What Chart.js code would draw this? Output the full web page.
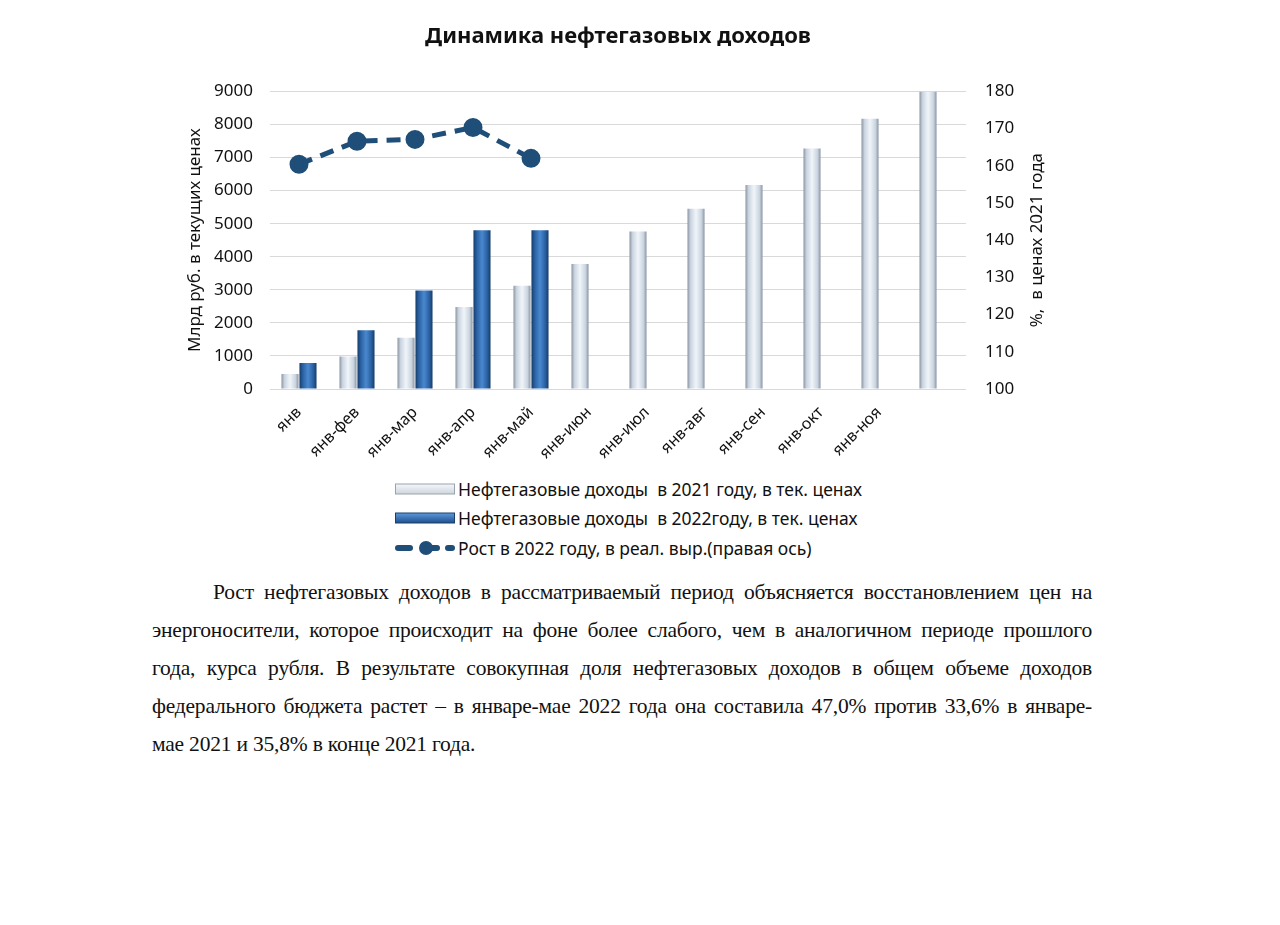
<!DOCTYPE html>
<html>
<head>
<meta charset="utf-8">
<script src="https://cdn.jsdelivr.net/npm/chart.js@4"></script>
<style>
html,body{margin:0;padding:0;background:#fff;}
#wrap{position:relative;width:1280px;height:925px;overflow:hidden;background:#fff;}
#c{position:absolute;left:0;top:0;}
#legend{position:absolute;left:395px;top:474px;font-family:"Noto Sans",sans-serif;font-size:17.5px;color:#111;}
.li{display:flex;align-items:center;height:29.5px;white-space:pre;}
.mk{width:60px;height:16px;margin-right:3px;flex:none;}
#text{position:absolute;left:152px;top:573px;width:940px;font-family:"Liberation Serif",serif;font-size:21.5px;letter-spacing:-0.2px;line-height:38px;color:#111;}
.ln{text-align:justify;text-align-last:justify;}
.ln.first{text-indent:61px;}
.ln.last{text-align-last:left;}
</style>
</head>
<body>
<div id="wrap">
<canvas id="c" width="1280" height="470"></canvas>
<div id="legend"></div>
<div id="text">
<div class="ln first">Рост нефтегазовых доходов в рассматриваемый период объясняется восстановлением цен на</div>
<div class="ln">энергоносители, которое происходит на фоне более слабого, чем в аналогичном периоде прошлого</div>
<div class="ln">года, курса рубля. В результате совокупная доля нефтегазовых доходов в общем объеме доходов</div>
<div class="ln">федерального бюджета растет – в январе-мае 2022 года она составила 47,0% против 33,6% в январе-</div>
<div class="ln last">мае 2021 и 35,8% в конце 2021 года.</div>
</div>
</div>
<script>
// ---- data ----
const chartTitle = 'Динамика нефтегазовых доходов';
const categories = ['янв','янв-фев','янв-мар','янв-апр','янв-май','янв-июн','янв-июл','янв-авг','янв-сен','янв-окт','янв-ноя',''];
const revenue2021 = [450, 980, 1550, 2480, 3120, 3780, 4760, 5450, 6170, 7270, 8170, 9000];
const revenue2022 = [790, 1780, 2980, 4800, 4800, null, null, null, null, null, null, null];
const growth2022 = [160.4, 166.6, 167.1, 170.3, 162.0, null, null, null, null, null, null, null];
const seriesNames = ['Нефтегазовые доходы  в 2021 году, в тек. ценах','Нефтегазовые доходы  в 2022году, в тек. ценах','Рост в 2022 году, в реал. выр.(правая ось)'];
const leftAxisTitle = 'Млрд руб. в текущих ценах';
const rightAxisTitle = '%,  в ценах 2021 года';
const leftMin = 0, leftMax = 9000, leftStep = 1000;
const rightMin = 100, rightMax = 180, rightStep = 10;

// ---- styling ----
const FONT = '"Noto Sans", sans-serif';
const CAT_PCT = 0.62, BAR_PCT = 0.95;
const lightStops = [[0,'#8b96a2'],[0.18,'#c9d4e0'],[0.5,'#f1f5fa'],[0.82,'#c9d4e0'],[1,'#8b96a2']];
const darkStops = [[0,'#163c69'],[0.2,'#2a62a4'],[0.5,'#4a88cf'],[0.8,'#2a62a4'],[1,'#163c69']];
const lineColor = '#1f4e79';

function barGradient(stops, slot){
  return (ctx) => {
    const chart = ctx.chart;
    const xs = chart.scales && chart.scales.x;
    if (ctx.type !== 'data' || !xs || !isFinite(xs.width) || xs.width <= 0) return stops[2][1];
    const cw = xs.width / categories.length;
    const slotW = cw * CAT_PCT / 2;
    const cx = xs.getPixelForValue(ctx.dataIndex) + (slot - 0.5) * slotW;
    const w = slotW * BAR_PCT;
    const g = chart.ctx.createLinearGradient(cx - w/2, 0, cx + w/2, 0);
    stops.forEach(([o,c]) => g.addColorStop(o,c));
    return g;
  };
}

const rightTitlePlugin = {
  id: 'rightTitle',
  afterDraw(chart){
    const s = chart.scales.y1;
    const c = chart.ctx;
    c.save();
    c.translate(s.left + 71, (s.top + s.bottom) / 2);
    c.rotate(-Math.PI/2);
    c.textAlign = 'center';
    c.textBaseline = 'middle';
    c.fillStyle = '#111';
    c.font = '17px ' + FONT;
    c.fillText(rightAxisTitle, 0, 0);
    c.restore();
  }
};

new Chart(document.getElementById('c'), {
  data: {
    labels: categories,
    datasets: [
      {type:'line', label: seriesNames[2], data: growth2022, yAxisID:'y1', order:0,
       borderColor: lineColor, backgroundColor: lineColor, borderWidth: 5, borderDash:[14,9],
       pointRadius: 7, pointBackgroundColor: lineColor, pointBorderColor: lineColor, tension:0, spanGaps:false},
      {type:'bar', label: seriesNames[0], data: revenue2021, yAxisID:'y', order:1,
       backgroundColor: barGradient(lightStops, 0), borderWidth:0,
       categoryPercentage: CAT_PCT, barPercentage: BAR_PCT},
      {type:'bar', label: seriesNames[1], data: revenue2022, yAxisID:'y', order:2,
       backgroundColor: barGradient(darkStops, 1), borderWidth:0,
       categoryPercentage: CAT_PCT, barPercentage: BAR_PCT}
    ]
  },
  options: {
    responsive:false, animation:false,
    layout:{padding:0},
    plugins:{
      legend:{display:false}, tooltip:{enabled:false},
      title:{display:true, fullSize:false, text: chartTitle, color:'#111', font:{family:FONT, size:22, weight:'bold'}, padding:{top:24,bottom:41}}
    },
    scales:{
      x:{
        grid:{display:false}, border:{display:false},
        ticks:{autoSkip:false, minRotation:45, maxRotation:45, color:'#111', font:{family:FONT, size:16}, padding:6},
        afterFit(s){ s.height = 81; }
      },
      y:{
        position:'left', min:leftMin, max:leftMax,
        grid:{color:'#d9d9d9', lineWidth:1, drawTicks:false}, border:{display:false},
        ticks:{stepSize:leftStep, color:'#111', font:{family:FONT, size:17}, padding:17, callback:(v)=>String(v)},
        title:{display:true, text:leftAxisTitle, color:'#111', font:{family:FONT, size:17}, padding:{top:185,bottom:0}},
        afterFit(s){ s.width = 270; }
      },
      y1:{
        position:'right', min:rightMin, max:rightMax,
        grid:{drawOnChartArea:false, drawTicks:false}, border:{display:false},
        ticks:{stepSize:rightStep, color:'#111', font:{family:FONT, size:17}, padding:19, callback:(v)=>String(v)},
        afterFit(s){ s.width = 314; }
      }
    }
  },
  plugins:[rightTitlePlugin]
});

// HTML legend built from series names
const lg = document.getElementById('legend');
const markers = [
  '<svg class="mk" viewBox="0 0 60 16"><defs><linearGradient id="g1" x1="0" y1="0" x2="0" y2="1"><stop offset="0" stop-color="#f5f7fa"/><stop offset="1" stop-color="#cdd5de"/></linearGradient></defs><rect x="0.5" y="3" width="59" height="10" fill="url(#g1)" stroke="#9aa3ad"/></svg>',
  '<svg class="mk" viewBox="0 0 60 16"><defs><linearGradient id="g2" x1="0" y1="0" x2="0" y2="1"><stop offset="0" stop-color="#5d9ade"/><stop offset="1" stop-color="#1f4f8a"/></linearGradient></defs><rect x="0.5" y="3" width="59" height="10" fill="url(#g2)" stroke="#1b406e"/></svg>',
  '<svg class="mk" viewBox="0 0 60 16"><line x1="3" y1="8" x2="15" y2="8" stroke="'+lineColor+'" stroke-width="6" stroke-linecap="round"/><line x1="30" y1="8" x2="42" y2="8" stroke="'+lineColor+'" stroke-width="6" stroke-linecap="round"/><circle cx="31" cy="8" r="7" fill="'+lineColor+'"/><line x1="53" y1="8" x2="57" y2="8" stroke="'+lineColor+'" stroke-width="6" stroke-linecap="round"/></svg>'
];
seriesNames.forEach((n,i) => {
  const d = document.createElement('div');
  d.className = 'li';
  d.innerHTML = markers[i];
  const t = document.createElement('span');
  t.textContent = n;
  d.appendChild(t);
  lg.appendChild(d);
});
</script>
</body>
</html>
